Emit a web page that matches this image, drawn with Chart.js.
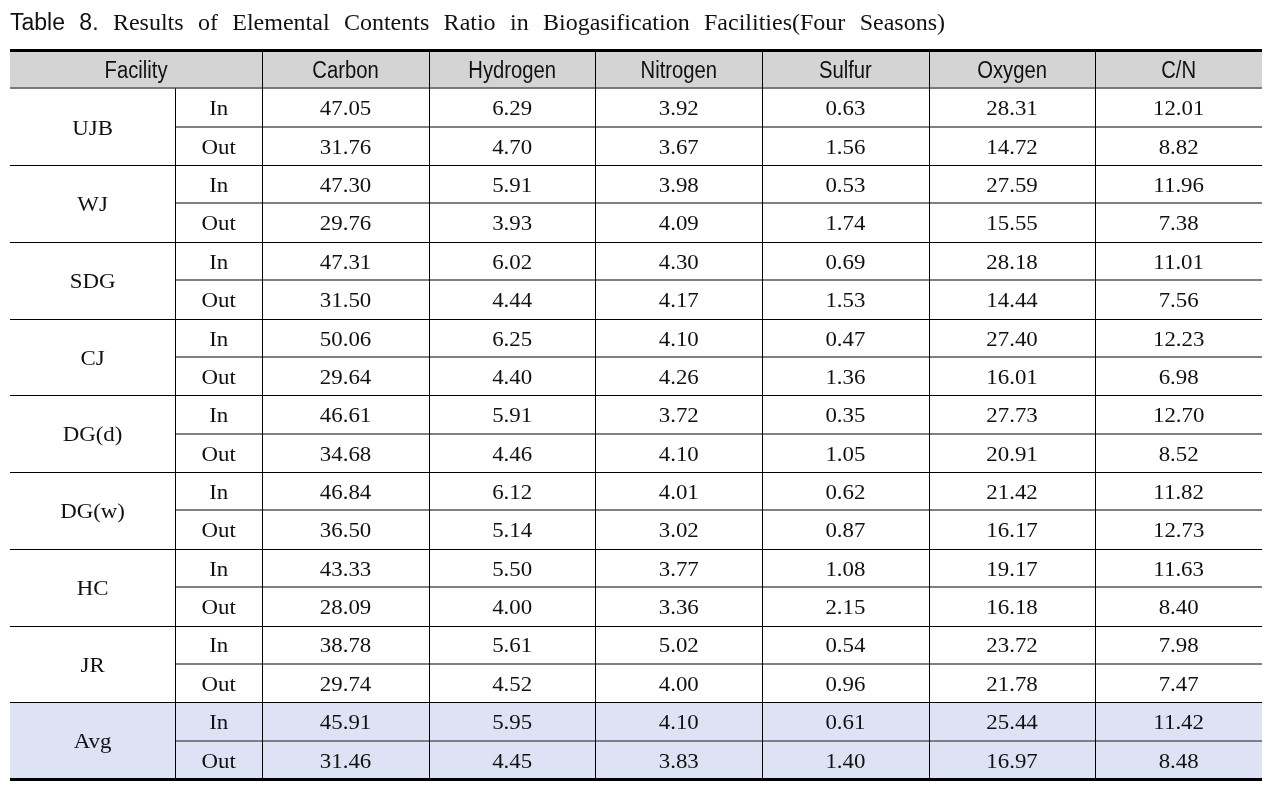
<!DOCTYPE html>
<html>
<head>
<meta charset="utf-8">
<script src="https://cdn.jsdelivr.net/npm/chart.js@4.4.1/dist/chart.umd.min.js"></script>
<style>
  html, body { margin: 0; padding: 0; background: #fff; }
  #wrap { width: 1282px; height: 785px; }
</style>
</head>
<body>
<div id="wrap"><canvas id="myChart" width="1282" height="785"></canvas></div>
<script>
// table content
const titleLabel = ['Table', '8.'];
const titleText = 'Results of Elemental Contents Ratio in Biogasification Facilities(Four Seasons)';
const headerFacility = 'Facility';
const facilities = ['UJB', 'WJ', 'SDG', 'CJ', 'DG(d)', 'DG(w)', 'HC', 'JR', 'Avg'];
const stages = ['In', 'Out'];
const columns = ['Carbon', 'Hydrogen', 'Nitrogen', 'Sulfur', 'Oxygen', 'C/N'];

// one value per row: UJB In, UJB Out, WJ In, ...
const carbon   = [47.05, 31.76, 47.30, 29.76, 47.31, 31.50, 50.06, 29.64, 46.61, 34.68, 46.84, 36.50, 43.33, 28.09, 38.78, 29.74, 45.91, 31.46];
const hydrogen = [6.29, 4.70, 5.91, 3.93, 6.02, 4.44, 6.25, 4.40, 5.91, 4.46, 6.12, 5.14, 5.50, 4.00, 5.61, 4.52, 5.95, 4.45];
const nitrogen = [3.92, 3.67, 3.98, 4.09, 4.30, 4.17, 4.10, 4.26, 3.72, 4.10, 4.01, 3.02, 3.77, 3.36, 5.02, 4.00, 4.10, 3.83];
const sulfur   = [0.63, 1.56, 0.53, 1.74, 0.69, 1.53, 0.47, 1.36, 0.35, 1.05, 0.62, 0.87, 1.08, 2.15, 0.54, 0.96, 0.61, 1.40];
const oxygen   = [28.31, 14.72, 27.59, 15.55, 28.18, 14.44, 27.40, 16.01, 27.73, 20.91, 21.42, 16.17, 19.17, 16.18, 23.72, 21.78, 25.44, 16.97];
const cn       = [12.01, 8.82, 11.96, 7.38, 11.01, 7.56, 12.23, 6.98, 12.70, 8.52, 11.82, 12.73, 11.63, 8.40, 7.98, 7.47, 11.42, 8.48];
const series = [carbon, hydrogen, nitrogen, sulfur, oxygen, cn];

// layout: column widths in x-scale units, row unit = 1 on the y scale
const colWidths = [165, 87, 166.5, 166.5, 166.5, 166.5, 166.5, 166.5];
const colEdges = [0];
colWidths.forEach(w => colEdges.push(colEdges[colEdges.length - 1] + w));
const nRows = facilities.length * stages.length;

const SERIF = '"Liberation Serif", "Times New Roman", serif';
const SANS = '"Liberation Sans", Arial, sans-serif';

// text squeezed or stretched sideways, like the fonts of the source
function scaledText(ctx, text, px, py, sx) {
  ctx.save();
  ctx.translate(px, py);
  ctx.scale(sx, 1);
  ctx.fillText(text, 0, 0);
  ctx.restore();
}

const tablePlugin = {
  id: 'tableDraw',
  beforeDatasetsDraw(chart) {
    const ctx = chart.ctx;
    const x = chart.scales.x, y = chart.scales.y;
    const left = x.getPixelForValue(0), right = x.getPixelForValue(colEdges[colEdges.length - 1]);
    ctx.save();
    // header background
    ctx.fillStyle = '#d4d4d4';
    ctx.fillRect(left, y.getPixelForValue(0), right - left, y.getPixelForValue(1) - y.getPixelForValue(0));
    // avg rows background
    const avgTop = y.getPixelForValue(1 + (facilities.length - 1) * 2);
    ctx.fillStyle = '#dde2f5';
    ctx.fillRect(left, avgTop, right - left, y.getPixelForValue(1 + nRows) - avgTop);

    // horizontal rules
    ctx.fillStyle = '#000';
    for (let g = 1; g < facilities.length; g++) {
      const py = Math.round(y.getPixelForValue(1 + g * 2));
      ctx.fillRect(left, py, right - left, 1);
    }
    ctx.fillStyle = '#808080';
    const subLeft = x.getPixelForValue(colEdges[1]);
    for (let g = 0; g < facilities.length; g++) {
      const py = Math.round(y.getPixelForValue(2 + g * 2));
      ctx.fillRect(subLeft, py - 1, right - subLeft, 2);
    }
    // header bottom
    ctx.fillStyle = '#7a7a7a';
    ctx.fillRect(left, Math.round(y.getPixelForValue(1)) - 1, right - left, 2);

    // vertical rules
    ctx.fillStyle = '#000';
    const top = y.getPixelForValue(0), bottom = y.getPixelForValue(1 + nRows);
    for (let c = 1; c < colEdges.length - 1; c++) {
      const px = Math.round(x.getPixelForValue(colEdges[c]));
      const startY = c === 1 ? y.getPixelForValue(1) : top;
      ctx.fillRect(px, startY, 1, bottom - startY);
    }
    // thick top and bottom rules
    ctx.fillRect(left, Math.round(top) - 1, right - left, 3);
    ctx.fillRect(left, Math.round(bottom) - 1, right - left, 3);

    // header text
    ctx.fillStyle = '#111';
    ctx.textAlign = 'center';
    ctx.textBaseline = 'middle';
    ctx.font = '23px ' + SANS;
    const hy = y.getPixelForValue(0.5) + 2;
    scaledText(ctx, headerFacility, x.getPixelForValue(colEdges[2] / 2), hy, 0.88);
    columns.forEach((name, i) => {
      scaledText(ctx, name, x.getPixelForValue((colEdges[i + 2] + colEdges[i + 3]) / 2), hy, 0.88);
    });

    // body text
    ctx.font = '22px ' + SERIF;
    facilities.forEach((f, g) => {
      scaledText(ctx, f, x.getPixelForValue(colEdges[1] / 2), y.getPixelForValue(2 + g * 2) + 2, 1.04);
      stages.forEach((s, k) => {
        const r = g * 2 + k;
        const py = y.getPixelForValue(1.5 + r) + 2;
        scaledText(ctx, s, x.getPixelForValue((colEdges[1] + colEdges[2]) / 2), py, 1.04);
        series.forEach((vals, i) => {
          scaledText(ctx, vals[r].toFixed(2), x.getPixelForValue((colEdges[i + 2] + colEdges[i + 3]) / 2), py, 1.04);
        });
      });
    });

    // title, justified across its line
    ctx.textAlign = 'left';
    ctx.textBaseline = 'alphabetic';
    const words = titleLabel.map(t => ({ t, f: '23px ' + SANS }))
      .concat(titleText.split(' ').map(t => ({ t, f: '24px ' + SERIF })));
    let total = 0;
    words.forEach(w => { ctx.font = w.f; w.w = ctx.measureText(w.t).width; total += w.w; });
    const tx0 = left, tx1 = 945;
    const gap = (tx1 - tx0 - total) / (words.length - 1);
    let tx = tx0;
    words.forEach(w => { ctx.font = w.f; ctx.fillText(w.t, tx, 30); tx += w.w + gap; });
    ctx.restore();
  }
};

const ctx = document.getElementById('myChart').getContext('2d');
const myChart = new Chart(ctx, {
  type: 'scatter',
  data: {
    datasets: series.map((vals, i) => ({
      label: columns[i],
      data: vals.map((v, r) => ({ x: (colEdges[i + 2] + colEdges[i + 3]) / 2, y: 1.5 + r })),
      pointRadius: 0,
      pointHoverRadius: 0
    }))
  },
  options: {
    responsive: false,
    animation: false,
    events: [],
    layout: { padding: { left: 10, right: 20, top: 50, bottom: 6 } },
    plugins: {
      legend: { display: false },
      tooltip: { enabled: false }
    },
    scales: {
      x: { type: 'linear', display: false, min: 0, max: colEdges[colEdges.length - 1] },
      y: { type: 'linear', display: false, reverse: true, min: 0, max: 1 + nRows }
    }
  },
  plugins: [tablePlugin]
});
</script>
</body>
</html>
